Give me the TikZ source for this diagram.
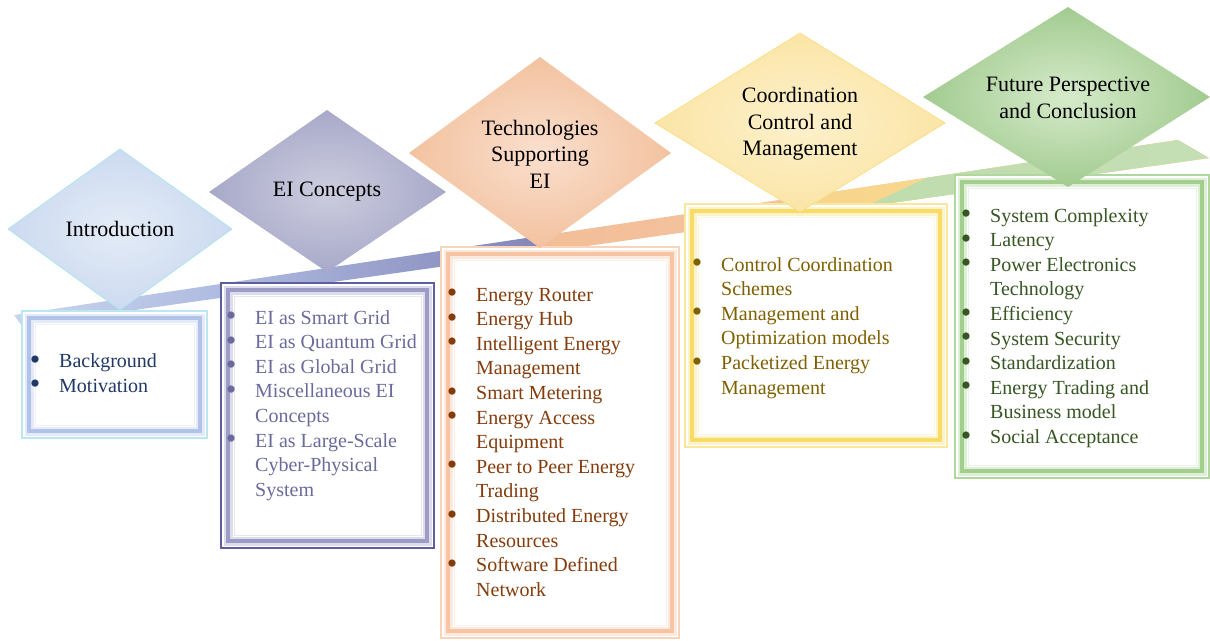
\documentclass[tikz,border=0pt]{standalone}
\usepackage{fontspec}
\setmainfont{Liberation Serif}
\usetikzlibrary{calc}
\definecolor{bandA}{HTML}{CCD7EE}
\definecolor{bandB}{HTML}{AEBBE0}
\definecolor{bandC}{HTML}{8284B6}
\definecolor{orA}{HTML}{F2BE98}
\definecolor{orB}{HTML}{F6CBA8}
\definecolor{yeA}{HTML}{F8D48A}
\definecolor{yeB}{HTML}{FADC98}
\definecolor{grA}{HTML}{BCDAA8}
\definecolor{grB}{HTML}{C4DFB4}
\definecolor{inA}{HTML}{CCDAF0}\definecolor{inB}{HTML}{E4ECF7}\definecolor{inE}{HTML}{AEE6EE}
\definecolor{eiA}{HTML}{A8A9C9}\definecolor{eiB}{HTML}{CDCDDF}
\definecolor{teA}{HTML}{F3C29F}\definecolor{teB}{HTML}{FADFCE}
\definecolor{coA}{HTML}{FBE5A6}\definecolor{coB}{HTML}{FDF1CC}\definecolor{coE}{HTML}{F9DF8A}
\definecolor{fuA}{HTML}{A2CB90}\definecolor{fuB}{HTML}{D6EBCB}
\definecolor{txIn}{HTML}{203864}
\definecolor{txEi}{HTML}{6A6A9C}
\definecolor{txTe}{HTML}{843C0C}
\definecolor{txCo}{HTML}{7F6000}
\definecolor{txFu}{HTML}{375623}
\definecolor{fIn1}{HTML}{BCE6F2}\definecolor{fIn2}{HTML}{B2C3EA}
\definecolor{fEi1}{HTML}{5E5EA0}\definecolor{fEi2}{HTML}{9C9CC6}
\definecolor{fTe1}{HTML}{F9D4BC}\definecolor{fTe2}{HTML}{F6C4A2}
\definecolor{fCo1}{HTML}{F9E79C}\definecolor{fCo2}{HTML}{F9DC68}
\definecolor{fFu1}{HTML}{B0D7A0}\definecolor{fFu2}{HTML}{A2CE8E}
\newcommand\bl{\makebox[27.5pt][l]{\hspace{-1.75pt}\raisebox{-1.6pt}{\scalebox{1.5}{\textbullet}}}}
\newcommand\myfancyframe[7]{%
  \fill[white] (#1,#2) rectangle (#3,#4);
  \draw[#5, line width=#7] (#1,#2) rectangle (#3,#4);
  \draw[#6!35, line width=9pt] ($(#1,#2)+(7,7)$) rectangle ($(#3,#4)+(-7,-7)$);
  \draw[#6, line width=3.5pt] ($(#1,#2)+(7,7)$) rectangle ($(#3,#4)+(-7,-7)$);
  \draw[#6!25, line width=1pt] ($(#1,#2)+(13,13)$) rectangle ($(#3,#4)+(-13,-13)$);
}
\tikzset{
  title/.style={align=center, text=black, font=\fontsize{22}{26.5}\selectfont, inner sep=0pt},
  items/.style={anchor=base west, inner sep=0pt, font=\fontsize{20}{24.6}\selectfont}
}
\begin{document}
\begin{tikzpicture}[x=1pt,y=-1pt]
\useasboundingbox (0,0) rectangle (1210,640);
% ribbon
\begin{scope}
\clip (14,315) -- (1178,140) -- (1209,158) -- (22,326) -- cycle;
\shade[left color=bandA, right color=bandB] (0,100) rectangle (226,340);
\shade[left color=bandB, right color=bandC] (225,100) rectangle (550,340);
\shade[left color=orA, right color=orB] (525,340) -- (555,100) -- (1210,100) -- (1210,340) -- cycle;
\shade[left color=yeA, right color=yeB] (785,340) -- (815,100) -- (1210,100) -- (1210,340) -- cycle;
\shade[left color=grA, right color=grB] (580,340) -- (1093,100) -- (1210,100) -- (1210,340) -- cycle;
\end{scope}
% boxes
\myfancyframe{22}{311}{207}{438}{fIn1}{fIn2}{1.2pt}
\myfancyframe{221}{283}{434}{548}{fEi1}{fEi2}{2.4pt}
\myfancyframe{441}{247}{679}{638}{fTe1}{fTe2}{1.2pt}
\myfancyframe{685}{204}{947}{447}{fCo1}{fCo2}{1.2pt}
\myfancyframe{955}{175}{1209}{478}{fFu1}{fFu2}{1.4pt}
% diamonds
\shade[inner color=inB, outer color=inA, draw=inE, line width=0.8pt] (120,149) -- (232,229) -- (120,310) -- (8,229) -- cycle;
\shade[inner color=eiB, outer color=eiA] (327,110) -- (446,192) -- (327,272) -- (209,192) -- cycle;
\shade[inner color=teB, outer color=teA] (540,57) -- (671,153) -- (540,248) -- (409,153) -- cycle;
\shade[inner color=coB, outer color=coA, draw=coE, line width=0.8pt] (800,33) -- (945,123) -- (800,212) -- (655,123) -- cycle;
\shade[inner color=fuB, outer color=fuA] (1068,7) -- (1210,97) -- (1068,187) -- (923,97) -- cycle;
% titles
\node[title] (tIn) at (120,229) {Introduction};
\node[title] (tEi) at (327,192) {EI Concepts};
\node[title] (tTe) at (540,154) {Technologies\\Supporting\\EI};
\node[title] (tCo) at (800,124) {Coordination\\Control and\\Management};
\node[title] (tFu) at (1068,98) {Future Perspective\\and Conclusion};
% item lists
\node[items, text=txIn] (lIn) at (31.5,367.5) {\begin{tabular}[t]{@{}l@{}l@{}}
\bl & Background\\ \bl & Motivation\end{tabular}};
\node[items, text=txEi] (lEi) at (227.5,324) {\begin{tabular}[t]{@{}l@{}l@{}}
\bl & EI as Smart Grid\\ \bl & EI as Quantum Grid\\ \bl & EI as Global Grid\\
\bl & Miscellaneous EI\\ & Concepts\\ \bl & EI as Large-Scale\\ & Cyber-Physical\\ & System\end{tabular}};
\node[items, text=txTe] (lTe) at (448.5,301) {\begin{tabular}[t]{@{}l@{}l@{}}
\bl & Energy Router\\ \bl & Energy Hub\\ \bl & Intelligent Energy\\ & Management\\
\bl & Smart Metering\\ \bl & Energy Access\\ & Equipment\\ \bl & Peer to Peer Energy\\ & Trading\\
\bl & Distributed Energy\\ & Resources\\ \bl & Software Defined\\ & Network\end{tabular}};
\node[items, text=txCo] (lCo) at (693.5,271) {\begin{tabular}[t]{@{}l@{}l@{}}
\bl & Control Coordination\\ & Schemes\\ \bl & Management and\\ & Optimization models\\
\bl & Packetized Energy\\ & Management\end{tabular}};
\node[items, text=txFu] (lFu) at (962.5,222) {\begin{tabular}[t]{@{}l@{}l@{}}
\bl & System Complexity\\ \bl & Latency\\ \bl & Power Electronics\\ & Technology\\
\bl & Efficiency\\ \bl & System Security\\ \bl & Standardization\\ \bl & Energy Trading and\\
& Business model\\ \bl & Social Acceptance\end{tabular}};
\end{tikzpicture}
\end{document}
